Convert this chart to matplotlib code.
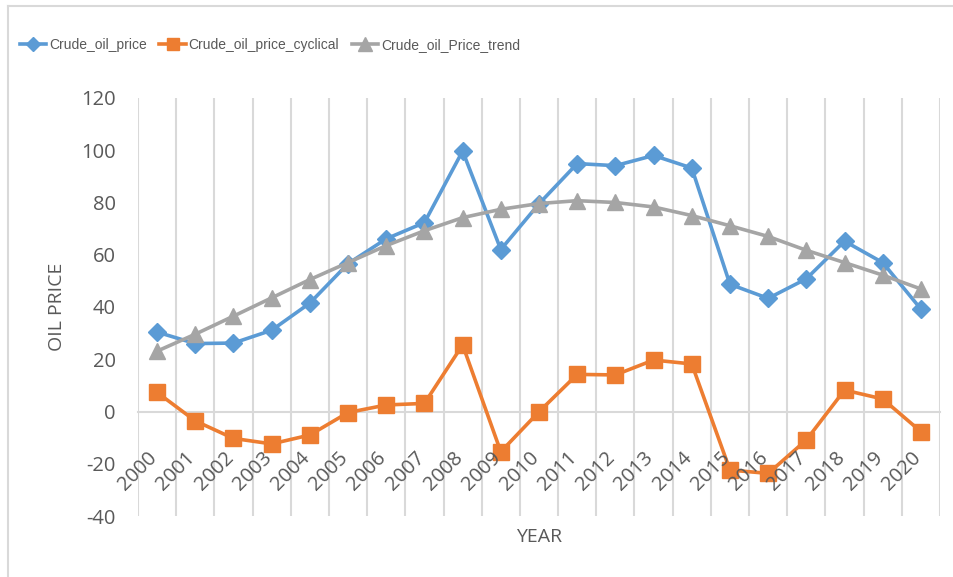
"""Crude oil price, its cyclical part and its trend, 2000-2020 (Excel-style line chart)."""
import matplotlib
matplotlib.use("Agg")
import matplotlib.pyplot as plt
import matplotlib.transforms as mtransforms
from matplotlib.lines import Line2D
import numpy as np

years = [str(y) for y in range(2000, 2021)]
crude_oil_price = [30.4, 26.0, 26.2, 31.1, 41.5, 56.6, 66.1, 72.3, 99.7, 62.0, 79.5,
                   94.9, 94.1, 98.0, 93.2, 48.7, 43.3, 50.8, 65.2, 57.0, 39.2]
crude_oil_price_cyclical = [7.3, -3.6, -10.3, -12.4, -9.0, -0.4, 2.5, 3.1, 25.5, -15.4, -0.1,
                            14.2, 14.0, 19.7, 18.2, -22.4, -23.7, -10.9, 8.2, 4.8, -7.7]
crude_oil_price_trend = [23.1, 29.6, 36.5, 43.5, 50.5, 57.0, 63.5, 69.2, 74.2, 77.4, 79.6,
                         80.7, 80.0, 78.3, 75.0, 71.1, 67.0, 61.7, 57.0, 52.2, 46.9]
y_ticks = [-40, -20, 0, 20, 40, 60, 80, 100, 120]

BLUE, ORANGE, GREY = "#5B9BD5", "#ED7D31", "#A5A5A5"
TEXT = "#595959"
GRID = "#D9D9D9"

plt.rcParams["font.family"] = ["Open Sans", "DejaVu Sans"]
plt.rcParams["axes.unicode_minus"] = False

fig = plt.figure(figsize=(9.54, 5.77), dpi=100)
ax = fig.add_axes([138 / 954, 1 - 516 / 577, 802 / 954, 418 / 577])

# axis line sits at y = 0 (set first: moving the spine resets the ticks)
for side in ["top", "right", "left"]:
    ax.spines[side].set_visible(False)
ax.spines["bottom"].set_position(("data", 0))
ax.spines["bottom"].set_color(GRID)
ax.spines["bottom"].set_linewidth(1.5)
ax.spines["bottom"].set_zorder(1)

x = np.arange(len(years))
ax.set_xlim(-0.5, len(years) - 0.5)
ax.set_ylim(-40, 120)

# vertical gridlines between categories, under the data
for b in np.arange(-0.5, len(years), 1):
    ax.axvline(b, color=GRID, lw=1.5, zorder=0.5)

ax.plot(x, crude_oil_price, color=BLUE, lw=2.6, marker="D", ms=9,
        label="Crude_oil_price")
ax.plot(x, crude_oil_price_cyclical, color=ORANGE, lw=2.6, marker="s", ms=11,
        label="Crude_oil_price_cyclical")
ax.plot(x, crude_oil_price_trend, color=GREY, lw=2.6, marker="^", ms=12,
        label="Crude_oil_Price_trend")

ax.set_yticks(y_ticks)
ax.tick_params(axis="y", length=0, pad=16, labelsize=14.5, labelcolor=TEXT)

ax.set_xticks(x)
ax.set_xticklabels(years, rotation=45, ha="right", va="top",
                   rotation_mode="anchor", fontsize=14.5, color=TEXT)
ax.tick_params(axis="x", length=0, pad=14)
# nudge rotated year labels a little left and down, like Excel places them
shift = mtransforms.ScaledTranslation(-0.10, -0.17, fig.dpi_scale_trans)
for lab in ax.get_xticklabels():
    lab.set_transform(lab.get_transform() + shift)
# year labels are painted over the lines, as in the original
ax.set_axisbelow(False)

fig.text(57 / 954, 1 - 307 / 577, "OIL PRICE", rotation=90, ha="center",
         va="center", fontsize=14, color=TEXT)
fig.text(539 / 954, 1 - 537 / 577, "YEAR", ha="center", va="center",
         fontsize=14, color=TEXT)

fig.legend(loc="center", bbox_to_anchor=(270 / 954, 1 - 45 / 577), ncol=3,
           frameon=False, handlelength=1.9, columnspacing=0.9, handletextpad=0.2,
           prop={"family": ["Liberation Sans", "DejaVu Sans"], "size": 10},
           labelcolor=TEXT, markerscale=0.8)

# chart-area frame (only left and top edges visible in the crop)
fig.add_artist(Line2D([8 / 954, 8 / 954], [0, 1 - 6 / 577], color=GRID, lw=1.5,
                      transform=fig.transFigure))
fig.add_artist(Line2D([8 / 954, 1], [1 - 6 / 577, 1 - 6 / 577], color=GRID, lw=1.5,
                      transform=fig.transFigure))

fig.savefig("out.png", dpi=100)
